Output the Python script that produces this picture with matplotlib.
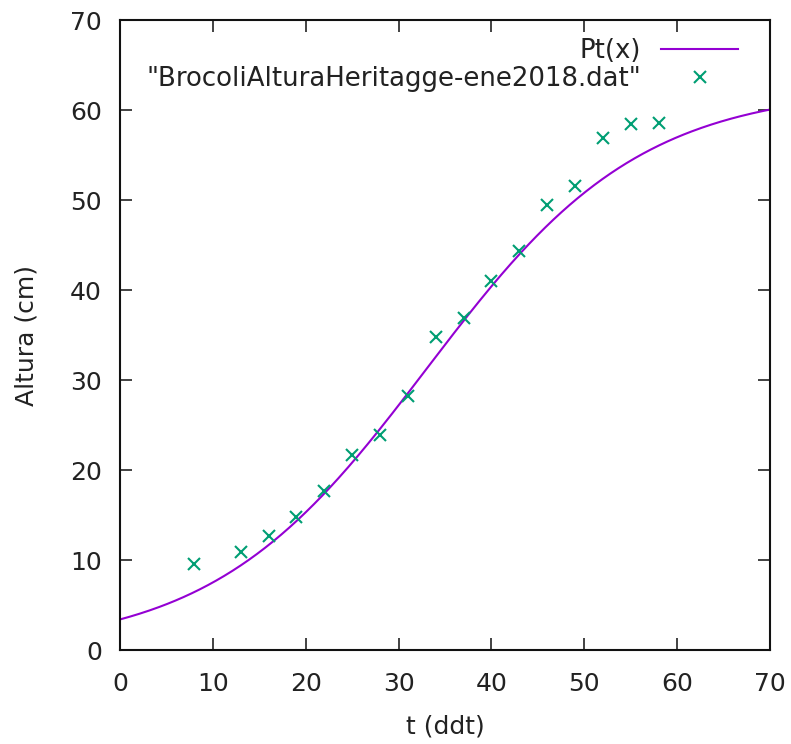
import numpy as np
import matplotlib
matplotlib.use("Agg")
import matplotlib.pyplot as plt

# Data
t_data = [8, 13, 16, 19, 22, 25, 28, 31, 34, 37, 40, 43, 46, 49, 52, 55, 58]
h_data = [9.6, 10.9, 12.7, 14.8, 17.7, 21.7, 23.9, 28.2, 34.8, 36.9,
          41.0, 44.3, 49.4, 51.6, 56.9, 58.4, 58.6]

# Fitted logistic model Pt(x) = K / (1 + A*exp(-r*x))
K_fit = 62.5
A_fit = 17.4
r_fit = 0.0865

x_ticks = [0, 10, 20, 30, 40, 50, 60, 70]
y_ticks = [0, 10, 20, 30, 40, 50, 60, 70]

W, H = 791, 744
fig = plt.figure(figsize=(W / 100, H / 100), dpi=100)
ax = fig.add_axes([120 / W, (H - 650) / H, 650 / W, 630 / H])

xs = np.linspace(0, 70, 400)
ys = K_fit / (1 + A_fit * np.exp(-r_fit * xs))
ax.plot(xs, ys, color="#9400d3", lw=1.5, label="Pt(x)")
ax.plot(t_data, h_data, linestyle="none", marker="x", color="#009e73",
        markersize=9, markeredgewidth=1.5,
        label='"BrocoliAlturaHeritagge-ene2018.dat"')

ax.set_xlim(0, 70)
ax.set_ylim(0, 70)
ax.set_xticks(x_ticks)
ax.set_yticks(y_ticks)
fs = 18
lfs = 18.7
ax.tick_params(direction="in", length=8.3, width=1.2, top=True, right=True,
               labelsize=fs, colors="#222222")
ax.tick_params(axis="x", pad=16)
ax.tick_params(axis="y", pad=13)
for s in ax.spines.values():
    s.set_linewidth(1.5)
    s.set_color("#111111")
ax.set_xlabel("t (ddt)", fontsize=fs, color="#222222", labelpad=13)
ax.set_ylabel("Altura (cm)", fontsize=fs, color="#222222", labelpad=23)

leg = ax.legend(loc="upper right", bbox_to_anchor=(738 / W, (H - 38) / H),
                bbox_transform=fig.transFigure, frameon=False,
                markerfirst=False, fontsize=lfs, borderpad=0,
                handlelength=77 / 26, handletextpad=20 / 26, labelspacing=0.09,
                borderaxespad=0)
for txt in leg.get_texts():
    txt.set_color("#222222")

fig.savefig("out.png", dpi=100)
